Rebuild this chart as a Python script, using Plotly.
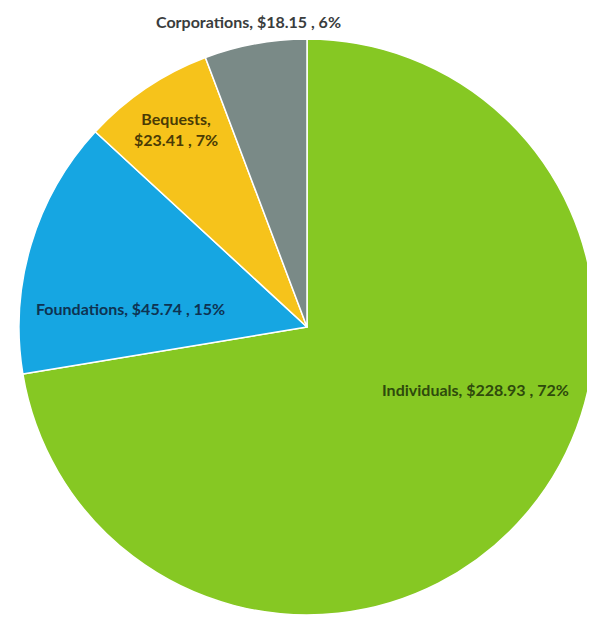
import plotly.graph_objects as go

names = ["Individuals", "Foundations", "Bequests", "Corporations"]
values = [228.93, 45.74, 23.41, 18.15]
pct_labels = [72, 15, 7, 6]
slice_colors = ["#86C823", "#16A6E2", "#F6C31B", "#7A8A87"]
text_colors = ["#2E4A0C", "#0E3352", "#4A3B05", "#3A3D3D"]

# page body has an 8px default margin; positions below are in page pixels
OFF = 8
W, H = 595, 622

fig = go.Figure()
fig.add_trace(go.Pie(
    labels=names,
    values=values,
    sort=False,
    direction="clockwise",
    rotation=0,
    textinfo="none",
    hoverinfo="label+value+percent",
    marker=dict(colors=slice_colors, line=dict(color="#FFFFFF", width=1.5)),
    domain=dict(x=[(19 - OFF) / W, (595 - OFF) / W],
                y=[1 - (615 - OFF) / H, 1 - (39 - OFF) / H]),
    showlegend=False,
))

label_pos = {
    "Individuals": (475, 389),
    "Foundations": (131, 308),
    "Bequests": (176, 129),
    "Corporations": (248, 21),
}

for n, v, p, c in zip(names, values, pct_labels, text_colors):
    if n == "Bequests":
        txt = f"{n},<br>${v:.2f} , {p}%"
    else:
        txt = f"{n}, ${v:.2f} , {p}%"
    px, py = label_pos[n]
    fig.add_annotation(
        x=(px - OFF) / W, y=1 - (py - OFF) / H, xref="paper", yref="paper",
        text=txt, showarrow=False, xanchor="center", yanchor="middle",
        font=dict(family="Lato", size=16, color=c, weight="bold"),
        align="center",
    )

fig.update_layout(
    width=W, height=H,
    margin=dict(l=0, r=0, t=0, b=0),
    paper_bgcolor="#FFFFFF",
    plot_bgcolor="#FFFFFF",
)

fig.write_html("out.html")
